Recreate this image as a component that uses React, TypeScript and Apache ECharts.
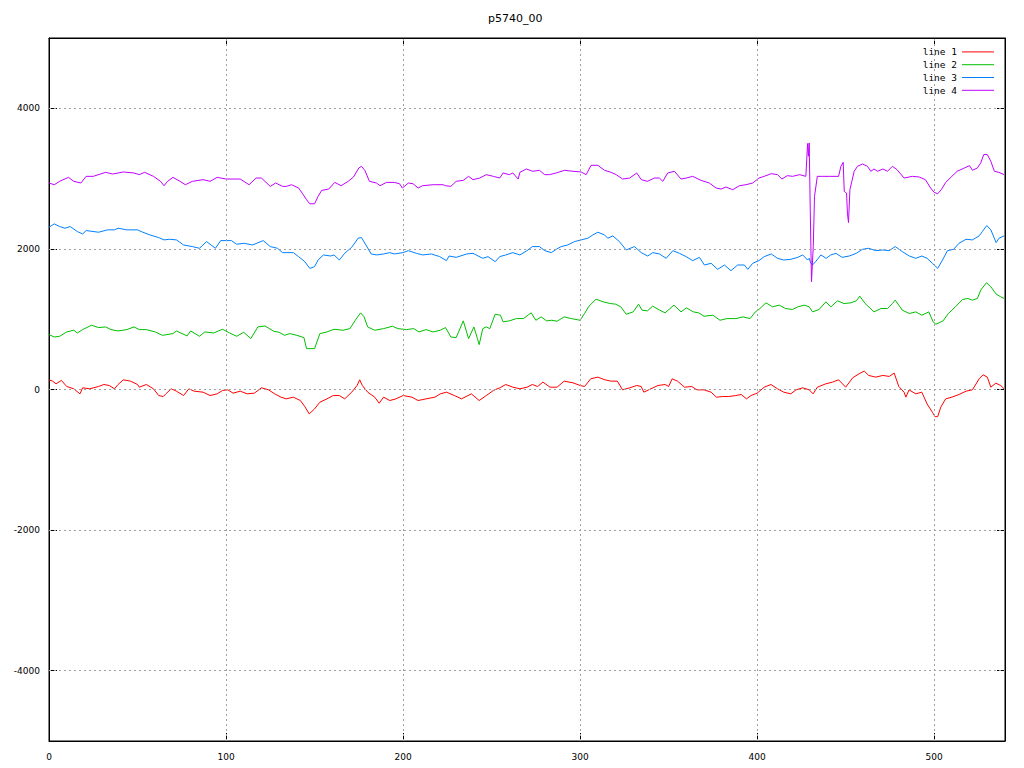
import React, { useEffect, useRef } from "react";
import * as echarts from "echarts";

const title = "p5740_00";
const seriesNames = ["line 1", "line 2", "line 3", "line 4"];
const seriesColors = ["#ff0000", "#00c000", "#0080ff", "#c000ff"];
const xTicks = [0, 100, 200, 300, 400, 500];
const yTicks = [-4000, -2000, 0, 2000, 4000];

const line1: [number, number][] = [
  [0, 138], [2, 119], [4, 81], [7, 129], [10, 43], [14, 10], [17.5, -62], [19, 24], [23, 10], [28, 43],
  [31, 71], [34, 57], [37, 10], [39, 71], [42, 138], [46, 119], [50, 71], [51, 33], [55, 71], [59, 10],
  [62, -86], [64.5, -100], [66, -62], [69, 10], [72, -24], [76, -86], [79, 10], [82, -24], [87, -38], [91, -86],
  [95, -62], [98, -14], [101, -5], [104, -52], [108, -24], [112, -62], [116, -52], [120, 24], [124, -5], [127.5, -62],
  [131, -109], [134, -133], [138, -109], [142, -157], [144.5, -243], [147, -347], [150, -276], [153, -181], [157, -133], [160.5, -86],
  [164, -86], [167, -133], [171, -38], [174, 57], [175.5, 138], [177, 57], [180, -38], [184, -109], [186.5, -195], [189, -109],
  [192.5, -157], [196, -133], [200, -86], [205, -109], [208.5, -157], [213, -133], [218, -109], [221, -62], [224.5, -38], [229, -86],
  [233, -133], [238.6, -62], [243, -157], [247, -86], [251, -14], [254.6, 24], [258, 71], [262, 33], [266, 10], [270, 33],
  [273, 71], [276, 43], [279, 105], [283, 33], [287, 33], [291, 119], [296, 95], [300, 57], [302.5, 43], [306, 152],
  [310, 176], [314, 138], [317.5, 119], [321, 119], [324, -5], [328, 24], [332, 57], [334.5, 43], [336, -38], [340, 10],
  [344, 57], [348, 71], [350, 43], [352, 152], [355, 119], [359, 33], [363, 43], [366, -5], [370, -5], [374, -38],
  [377, -109], [380.6, -100], [384, -100], [388, -86], [391, -71], [394, -133], [396.5, -86], [400, -52], [404, 33], [407.8, 71],
  [411.5, 10], [415, -38], [419, -62], [422, -5], [425.7, 24], [429.4, -5], [431.6, -62], [434, 33], [438.8, 81], [442.6, 105],
  [446, 138], [450, 33], [454, 167], [457.6, 224], [460.5, 262], [463, 200], [467, 176], [471, 200], [474.6, 186], [477.4, 233],
  [480, 43], [483, -38], [484, -109], [485.8, -5], [489.6, -62], [493, -38], [496, -205], [499, -324], [500.5, -386], [502, -386],
  [503.7, -252], [506.5, -133], [510, -109], [514, -71], [518, -24], [521.6, -5], [525.4, 152], [527.6, 209], [530, 176], [532, 33],
  [534.8, 90], [537.6, 57], [539.5, 10],
];

const line2: [number, number][] = [
  [0, 781], [3, 747], [6, 757], [10, 819], [14, 843], [16, 804], [19, 852], [24, 914], [28, 881], [32, 890],
  [35, 852], [39, 833], [44, 852], [48, 890], [51, 852], [55, 852], [60, 819], [64, 771], [70, 795], [72, 833],
  [78, 762], [80, 833], [85, 757], [88, 819], [93, 804], [98, 857], [102, 804], [106, 757], [110, 814], [114, 724],
  [118, 890], [122, 904], [127, 828], [130, 814], [133, 771], [136, 795], [140, 771], [144, 738], [145.5, 581], [148, 581],
  [150, 581], [153, 795], [157, 819], [161, 857], [166, 843], [170, 866], [173, 985], [176, 1090], [178, 1033], [180, 890],
  [184, 843], [189, 866], [194, 900], [197, 866], [202, 852], [206, 866], [209, 819], [213, 852], [217, 819], [221, 843],
  [224, 881], [227, 747], [230, 738], [234, 976], [237, 724], [240, 890], [242, 724], [243, 638], [245, 866], [247, 890],
  [249, 866], [252, 1071], [255, 1057], [256.5, 962], [260, 976], [264, 1009], [268, 1009], [271, 1066], [272.4, 1090], [275, 985],
  [278, 1033], [281, 976], [284, 985], [287, 971], [291, 1033], [295, 1009], [300, 985], [302.5, 1081], [305, 1185], [309, 1285],
  [313, 1247], [317, 1223], [320, 1214], [323, 1176], [326, 1071], [330, 1104], [333, 1214], [335, 1128], [338, 1119], [341, 1185],
  [345, 1128], [348, 1090], [353, 1200], [357, 1104], [360, 1161], [364, 1104], [367, 1090], [370, 1042], [375, 1057], [379, 985],
  [383, 1009], [388, 1009], [392, 1033], [396, 1009], [399, 1104], [401, 1138], [405, 1233], [408.7, 1176], [412.5, 1200], [416, 1152],
  [420, 1138], [423, 1176], [426.6, 1200], [429.4, 1176], [431.3, 1104], [435, 1138], [438.8, 1247], [441.6, 1176], [445.4, 1261], [449, 1223],
  [453, 1233], [456, 1261], [458, 1328], [461, 1223], [466, 1104], [470, 1152], [473.6, 1152], [476.4, 1223], [478, 1271], [482, 1128],
  [486, 1081], [489.6, 1104], [493, 1057], [497, 1104], [499.4, 962], [501, 928], [505, 976], [508, 1081], [512, 1176], [516, 1280],
  [519, 1295], [521.6, 1271], [524.4, 1295], [526.3, 1414], [529.5, 1518], [532, 1461], [535, 1357], [537.6, 1318], [539.5, 1295],
];

const line3: [number, number][] = [
  [0, 2309], [3, 2356], [6, 2318], [9, 2294], [12, 2318], [16, 2247], [19, 2213], [21, 2261], [28, 2237], [33, 2271],
  [37, 2271], [39, 2294], [44, 2271], [50, 2271], [53, 2237], [57, 2199], [62, 2161], [65, 2128], [68, 2137], [72, 2128],
  [76, 2056], [81, 2033], [85, 2009], [89, 2104], [94, 2009], [97, 2118], [103, 2118], [106, 2066], [110, 2080], [115, 2056],
  [121, 2118], [125, 2033], [129, 2009], [132, 1947], [134, 1947], [138, 1947], [141, 1890], [144.5, 1818], [147.3, 1723], [150, 1747],
  [152, 1842], [155, 1914], [159, 1899], [161, 1914], [164, 1842], [167, 1937], [171, 2023], [174.6, 2152], [176.5, 2161], [179, 2056],
  [182, 1928], [185, 1914], [189, 1928], [192.5, 1947], [195, 1928], [200, 1947], [203, 1975], [207.5, 1937], [211, 1914], [216, 1928],
  [220.7, 1890], [224.5, 1833], [226, 1899], [230, 1880], [236, 1928], [239.5, 1937], [245, 1866], [248, 1890], [252, 1818], [254.6, 1890],
  [258, 1914], [262, 1947], [266, 1914], [270, 1975], [273, 2033], [277, 2033], [280, 1975], [283.7, 1947], [286.5, 1994], [289.3, 2033],
  [293, 2056], [296.8, 2104], [300.6, 2128], [304.4, 2152], [307.2, 2199], [310, 2237], [313.8, 2199], [315.6, 2152], [318.5, 2185], [322.2, 2104],
  [326, 1985], [330.7, 2033], [334.5, 1947], [338.2, 1899], [341, 1947], [344.8, 1928], [348.6, 1866], [352.4, 1975], [356.1, 1937], [359.9, 1890],
  [363.6, 1833], [367.4, 1880], [370.2, 1771], [374, 1795], [377.7, 1709], [381.5, 1771], [385.2, 1690], [389, 1771], [392.8, 1771], [394.7, 1709],
  [397.5, 1795], [401, 1833], [404, 1890], [408, 1928], [411.5, 1866], [415, 1842], [419, 1852], [423, 1880], [425.7, 1914], [428.5, 1842],
  [429.4, 1866], [430.3, 1795], [431.3, 1771], [433, 1818], [436, 1914], [439, 1866], [441.6, 1914], [444.5, 1937], [448, 1880], [452, 1899],
  [456, 1937], [459.5, 1994], [463, 2009], [467, 1975], [471, 1985], [474.6, 1975], [478, 2033], [482, 1961], [486, 1899], [489.6, 1866],
  [493, 1899], [496, 1866], [499, 1795], [502, 1723], [504.7, 1842], [507.5, 1975], [511, 1994], [514, 2080], [518, 2137], [521.6, 2128],
  [525.4, 2185], [527.2, 2247], [529.7, 2332], [532, 2271], [535, 2090], [536.6, 2152], [539.5, 2185],
];

const line4: [number, number][] = [
  [0, 2937], [3, 2913], [6, 2961], [11, 3018], [14, 2961], [18, 2937], [21, 3032], [25, 3032], [32, 3089], [36, 3065],
  [42, 3094], [48, 3080], [51, 3056], [54, 3089], [59, 3032], [63, 2961], [65, 2899], [67, 2961], [70, 3018], [74, 2961],
  [77, 2913], [81, 2961], [87, 2985], [91, 2961], [95, 3018], [100, 2994], [104, 2994], [108, 2994], [113, 2913], [117, 3008],
  [120, 3008], [125, 2889], [128, 2937], [132, 2889], [134, 2889], [137, 2913], [141, 2866], [143, 2794], [145.5, 2699], [147.3, 2642],
  [150, 2642], [152, 2747], [154, 2832], [158, 2851], [161.4, 2946], [165, 2899], [169, 2961], [172, 3023], [175, 3151], [176.5, 3175],
  [178.4, 3118], [181, 2961], [185, 2937], [187, 2899], [190.6, 2946], [195, 2946], [198, 2927], [199.6, 2866], [203, 2937], [205.6, 2927],
  [208.5, 2866], [211, 2899], [217, 2913], [222.6, 2913], [224, 2899], [227, 2889], [230, 2961], [234, 2975], [237, 3032], [239.5, 2985],
  [243.3, 3008], [247, 3056], [251, 3032], [254.6, 3008], [256.5, 3080], [260, 3056], [262, 3080], [265, 2994], [266, 3089], [269.6, 3137],
  [273.3, 3104], [277, 3118], [280, 3056], [282.7, 3056], [286.5, 3080], [291.2, 3118], [296, 3104], [300.6, 3094], [303.4, 3056], [306.2, 3189],
  [310, 3189], [313.8, 3118], [317.5, 3089], [320.4, 3056], [324, 2994], [328, 3008], [332, 3080], [334.5, 2985], [338, 2961], [342, 3008],
  [344.8, 3008], [346.7, 2961], [349.5, 3080], [353.3, 3104], [357, 2994], [359.9, 3008], [363.6, 3032], [368.3, 2975], [373, 2937], [376.8, 2866],
  [379.6, 2851], [382.4, 2880], [386.2, 2842], [390, 2899], [393.7, 2913], [397.5, 2937], [401, 3008], [404, 3032], [408, 3070], [411.5, 3056],
  [414, 2994], [417, 3042], [420, 3032], [424, 3056], [427.5, 3032], [428.5, 3499], [429, 3318], [429.4, 3508], [430, 2556], [430.7, 1533],
  [431.7, 2033], [432.4, 2747], [434, 3032], [437, 3032], [441, 3032], [446, 3032], [447.3, 3175], [448.6, 3232], [449.2, 2818], [450.5, 2794],
  [451, 2509], [451.6, 2375], [452.4, 2842], [453.5, 2961], [454.8, 3104], [456.7, 3175], [459.5, 3208], [462.3, 3175], [464.2, 3104], [466, 3137],
  [468, 3104], [471, 3137], [473.6, 3104], [476.4, 3175], [479, 3127], [483, 3008], [487.7, 3032], [491.5, 3023], [495, 2985], [498, 2866],
  [500, 2804], [502, 2785], [504, 2842], [506.5, 2946], [510, 3032], [513, 3104], [517, 3151], [520, 3184], [521.6, 3118], [524.4, 3151],
  [526.3, 3223], [528, 3342], [530, 3342], [532, 3246], [534, 3104], [536.6, 3089], [539.5, 3056],
];

const allData = [line1, line2, line3, line4];

export default function App() {
  const ref = useRef<HTMLDivElement>(null);
  useEffect(() => {
    if (!ref.current) return;
    const chart = echarts.init(ref.current, null, { renderer: "svg" });
    const tickFont = { fontFamily: "DejaVu Sans", fontSize: 9, color: "#000" };
    const gridStyle = { color: "#a0a0a0", type: [2, 3] as any, width: 1 };
    const axisLine = { show: true, onZero: false, lineStyle: { color: "#000" } };
    chart.setOption({
      animation: false,
      backgroundColor: "#fff",
      title: {
        text: title,
        left: 488,
        top: 13,
        padding: 0,
        textStyle: { fontFamily: "DejaVu Sans", fontSize: 11, fontWeight: "normal", color: "#000" },
      },
      legend: {
        orient: "vertical",
        right: 30,
        top: 45.5,
        padding: 0,
        itemGap: 0,
        align: "right",
        itemWidth: 32,
        itemHeight: 1,
        icon: "rect",
        textStyle: { fontFamily: "DejaVu Sans Mono", fontSize: 9.5, color: "#000", lineHeight: 12.8 },
        data: seriesNames,
      },
      grid: {
        left: 49,
        right: 19,
        top: 38,
        bottom: 27,
        show: true,
        borderColor: "#000",
        borderWidth: 1,
        backgroundColor: "transparent",
      },
      xAxis: [
        {
          type: "value",
          min: 0,
          max: 540,
          interval: 100,
          axisLine,
          axisTick: { show: true, inside: true, length: 8, lineStyle: { color: "#000" }, customValues: xTicks },
          axisLabel: { ...tickFont, margin: 11, customValues: xTicks },
          splitLine: { show: false },
        },
        {
          type: "value",
          position: "top",
          min: 0,
          max: 540,
          interval: 100,
          axisLine,
          axisTick: { show: true, inside: true, length: 8, lineStyle: { color: "#000" }, customValues: xTicks },
          axisLabel: { show: false },
          splitLine: { show: false },
        },
      ],
      yAxis: [
        {
          type: "value",
          min: -5000,
          max: 5000,
          interval: 1000,
          axisLine,
          axisTick: { show: true, inside: true, length: 8, lineStyle: { color: "#000" }, customValues: yTicks },
          axisLabel: {
            ...tickFont,
            margin: 9,
            customValues: yTicks,
            formatter: (v: number) => (v % 2000 === 0 && Math.abs(v) < 5000 ? String(v) : ""),
          },
          splitLine: { show: false },
        },
        {
          type: "value",
          position: "right",
          min: -5000,
          max: 5000,
          interval: 1000,
          axisLine,
          axisTick: { show: true, inside: true, length: 8, lineStyle: { color: "#000" }, customValues: yTicks },
          axisLabel: { show: false },
          splitLine: { show: false },
        },
      ],
      series: [
        {
          name: "grid",
          type: "line",
          data: [[0, 0]],
          showSymbol: false,
          lineStyle: { opacity: 0 },
          silent: true,
          markLine: {
            silent: true,
            symbol: ["none", "none"],
            label: { show: false },
            lineStyle: gridStyle,
            emphasis: { disabled: true },
            data: [
              ...yTicks.map((v) => ({ yAxis: v })),
              ...xTicks.filter((v) => v > 0).map((v) => ({ xAxis: v })),
            ],
          },
        },
        ...allData.map((d, i) => ({
          name: seriesNames[i],
          type: "line",
          data: d,
          showSymbol: false,
          color: seriesColors[i],
          lineStyle: { width: 1, color: seriesColors[i] },
          emphasis: { disabled: true },
        })),
      ],
    });
    return () => chart.dispose();
  }, []);
  return (
    <div
      ref={ref}
      style={{ position: "absolute", left: 0, top: 0, width: 1024, height: 768 }}
    />
  );
}
